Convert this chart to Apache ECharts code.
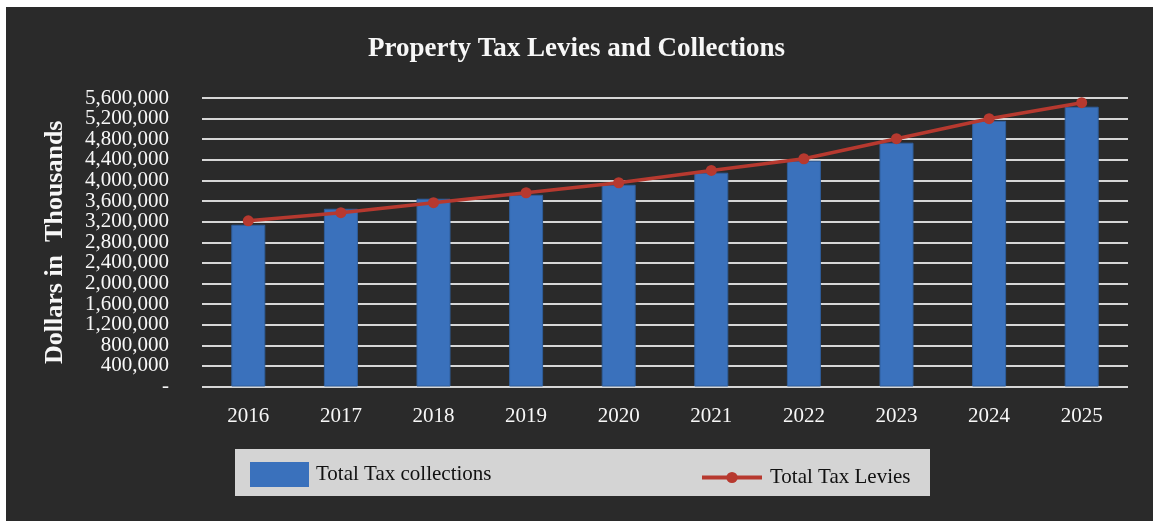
<!DOCTYPE html>
<html>
<head>
<meta charset="utf-8">
<title>Property Tax Levies and Collections</title>
<script src="https://cdn.jsdelivr.net/npm/echarts@6/dist/echarts.min.js"></script>
<style>
  html, body { margin: 0; padding: 0; background: #ffffff; }
  #panel { position: absolute; left: 6px; top: 7px; width: 1147px; height: 514px; background: #2a2a2a; }
  #chart { position: absolute; left: 0; top: 0; width: 1153px; height: 521px; }
</style>
</head>
<body>
<div id="panel"></div>
<div id="chart"></div>
<script>
// Fiscal years shown on the category axis
const years = ['2016', '2017', '2018', '2019', '2020', '2021', '2022', '2023', '2024', '2025'];

// Total tax collections (dollars in thousands)
const collections = [3140000, 3450000, 3645000, 3722000, 3916000, 4150000, 4382000, 4732000, 5159000, 5431000];

// Total tax levies (dollars in thousands)
const levies = [3217000, 3373000, 3567000, 3761000, 3955000, 4194000, 4421000, 4810000, 5198000, 5509000];

// Value axis range and step
const yMin = 0;
const yMax = 5600000;
const yStep = 400000;

const serif = "'Liberation Serif', 'Times New Roman', serif";
const textLight = '#f7f7f7';
const gridColor = '#d6d6d6';
const barColor = '#3a71bc';
const lineColor = '#b7392f';

// Accounting-style tick text: zero shows as a dash
const fmt = v => v === 0 ? '-' : v.toLocaleString('en-US');
const isEvenStep = v => Math.round(v / yStep) % 2 === 0;

const labelBase = {
  fontFamily: serif, fontSize: 21, color: textLight, margin: 33,
  padding: [5, 0, 0, 0], hideOverlap: false
};

const chart = echarts.init(document.getElementById('chart'), null, { renderer: 'canvas' });

chart.setOption({
  backgroundColor: 'transparent',
  animation: false,
  title: {
    text: 'Property Tax Levies and Collections',
    left: 'center',
    top: 31,
    textStyle: { fontFamily: serif, fontWeight: 'bold', fontSize: 27, color: textLight }
  },
  graphic: [{
    type: 'rect',
    left: 235, top: 449,
    shape: { width: 695, height: 47 },
    style: { fill: '#d4d4d4' },
    z: 0
  }],
  legend: [{
    data: [{ name: 'Total Tax collections', icon: 'rect' }],
    left: 250, top: 462,
    padding: 0,
    itemWidth: 59, itemHeight: 25, itemGap: 10,
    itemStyle: { borderWidth: 0 },
    textStyle: { fontFamily: serif, fontSize: 21, color: '#111111', padding: [5, 0, 0, 2] },
    z: 5
  }, {
    data: ['Total Tax Levies'],
    left: 700, top: 467,
    padding: 0,
    itemWidth: 60, itemHeight: 14,
    lineStyle: { width: 4 },
    textStyle: { fontFamily: serif, fontSize: 21, color: '#111111', padding: [0, 0, 0, 3] },
    z: 5
  }],
  grid: { left: 202, right: 25, top: 98, bottom: 134.5, containLabel: false },
  xAxis: {
    type: 'category',
    data: years,
    boundaryGap: true,
    axisTick: { show: false },
    axisLine: { show: false },
    axisLabel: { fontFamily: serif, fontSize: 21, color: textLight, margin: 19 }
  },
  yAxis: [{
    // main value axis: gridlines, name and every other tick label
    type: 'value',
    position: 'left',
    min: yMin, max: yMax, interval: yStep,
    name: 'Dollars in  Thousands',
    nameLocation: 'middle',
    nameGap: 134,
    nameTextStyle: { fontFamily: serif, fontWeight: 'bold', fontSize: 26, color: textLight },
    axisLine: { show: false },
    axisTick: { show: false },
    axisLabel: Object.assign({}, labelBase, {
      showMinLabel: true, showMaxLabel: true,
      formatter: v => isEvenStep(v) ? fmt(v) : ''
    }),
    splitLine: { lineStyle: { color: gridColor, width: 2 } }
  }, {
    // companion axis on the same scale carrying the remaining tick labels
    type: 'value',
    position: 'left',
    min: yMin, max: yMax, interval: yStep,
    axisLine: { show: false },
    axisTick: { show: false },
    axisLabel: Object.assign({}, labelBase, {
      showMinLabel: false, showMaxLabel: false,
      formatter: v => isEvenStep(v) ? '' : fmt(v)
    }),
    splitLine: { show: false }
  }],
  series: [{
    name: 'Total Tax collections',
    type: 'bar',
    yAxisIndex: 0,
    data: collections,
    barWidth: 34,
    itemStyle: { color: barColor, borderColor: '#2f5e9c', borderWidth: 1 }
  }, {
    name: 'Total Tax Levies',
    type: 'line',
    yAxisIndex: 0,
    data: levies,
    symbol: 'circle',
    symbolSize: 11,
    itemStyle: { color: lineColor },
    lineStyle: { color: lineColor, width: 3.5 }
  }]
});
</script>
</body>
</html>
